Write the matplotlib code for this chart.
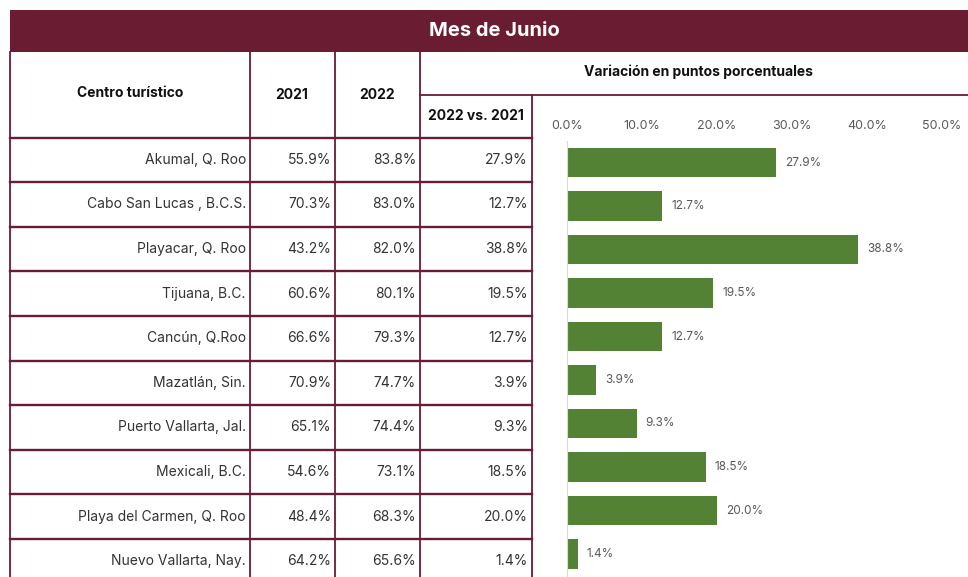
import matplotlib.pyplot as plt

# data
centros = ["Akumal, Q. Roo", "Cabo San Lucas , B.C.S.", "Playacar, Q. Roo",
           "Tijuana, B.C.", "Cancún, Q.Roo", "Mazatlán, Sin.",
           "Puerto Vallarta, Jal.", "Mexicali, B.C.", "Playa del Carmen, Q. Roo",
           "Nuevo Vallarta, Nay."]
ocup_2021 = [55.9, 70.3, 43.2, 60.6, 66.6, 70.9, 65.1, 54.6, 48.4, 64.2]
ocup_2022 = [83.8, 83.0, 82.0, 80.1, 79.3, 74.7, 74.4, 73.1, 68.3, 65.6]
variacion = [27.9, 12.7, 38.8, 19.5, 12.7, 3.9, 9.3, 18.5, 20.0, 1.4]
x_ticks = [0, 10, 20, 30, 40, 50]

plt.rcParams['font.family'] = ['Inter', 'DejaVu Sans']

W, H = 968, 577
maroon = "#691c32"
green = "#548235"
txt = "#333333"

fig = plt.figure(figsize=(W / 100, H / 100), dpi=100)

# table layer in pixel coordinates
ax = fig.add_axes([0, 0, 1, 1])
ax.set_xlim(0, W)
ax.set_ylim(H, 0)
ax.axis("off")

row0 = 137.5
rh = 44.6
n = len(centros)

ax.add_patch(plt.Rectangle((10, 10), W - 10, 42, color=maroon, lw=0))
ax.text(494, 31, "Mes de Junio", color="white", fontsize=14.5,
        fontweight="bold", ha="center", va="center")

lw = 1.3
for x in [10, 250, 335, 420]:
    ax.plot([x, x], [52, H], color=maroon, lw=lw)
ax.plot([532, 532], [95, H], color=maroon, lw=lw)
ax.plot([420, W], [95, 95], color=maroon, lw=lw)
for i in range(n + 1):
    y = row0 + i * rh
    ax.plot([10, 532], [y, y], color=maroon, lw=lw + 0.4)

ax.text(130, 93, "Centro turístico", fontsize=10, fontweight="bold",
        ha="center", va="center", color="#111111")
ax.text(292, 95, "2021", fontsize=10, fontweight="bold",
        ha="center", va="center", color="#111111")
ax.text(377, 95, "2022", fontsize=10, fontweight="bold",
        ha="center", va="center", color="#111111")
ax.text(476, 116, "2022 vs. 2021", fontsize=10, fontweight="bold",
        ha="center", va="center", color="#111111")
ax.text(698, 72, "Variación en puntos porcentuales", fontsize=10,
        fontweight="bold", ha="center", va="center", color="#111111")

for i in range(n):
    yc = row0 + (i + 0.5) * rh
    ax.text(246, yc, centros[i], fontsize=10, ha="right", va="center", color=txt)
    ax.text(331, yc, f"{ocup_2021[i]:.1f}%", fontsize=10, ha="right", va="center", color=txt)
    ax.text(416, yc, f"{ocup_2022[i]:.1f}%", fontsize=10, ha="right", va="center", color=txt)
    ax.text(528, yc, f"{variacion[i]:.1f}%", fontsize=10, ha="right", va="center", color=txt)

# bar chart (its own row spacing, a bit tighter than the table)
bh = 43.5
top = 140.75
x0, x50 = 567, 942
bx = fig.add_axes([x0 / W, 1 - (top + n * bh) / H, (x50 - x0) / W, n * bh / H])
bx.set_facecolor("none")
pos = list(range(n))
bx.barh(pos, variacion, height=0.67, color=green)
for i, v in enumerate(variacion):
    bx.text(v + 1.2, i, f"{v:.1f}%", fontsize=8.5, va="center", ha="left", color="#595959")
bx.set_xlim(0, 50)
bx.set_ylim(n - 0.5, -0.5)
bx.xaxis.tick_top()
bx.set_xticks(x_ticks)
bx.set_xticklabels([f"{t:.1f}%" for t in x_ticks], fontsize=9, color="#595959")
bx.tick_params(axis="x", length=0, pad=6)
bx.set_yticks([])
for s in ["top", "right", "bottom"]:
    bx.spines[s].set_visible(False)
bx.spines["left"].set_color("#d9d9d9")

fig.savefig("out.png", dpi=100)
